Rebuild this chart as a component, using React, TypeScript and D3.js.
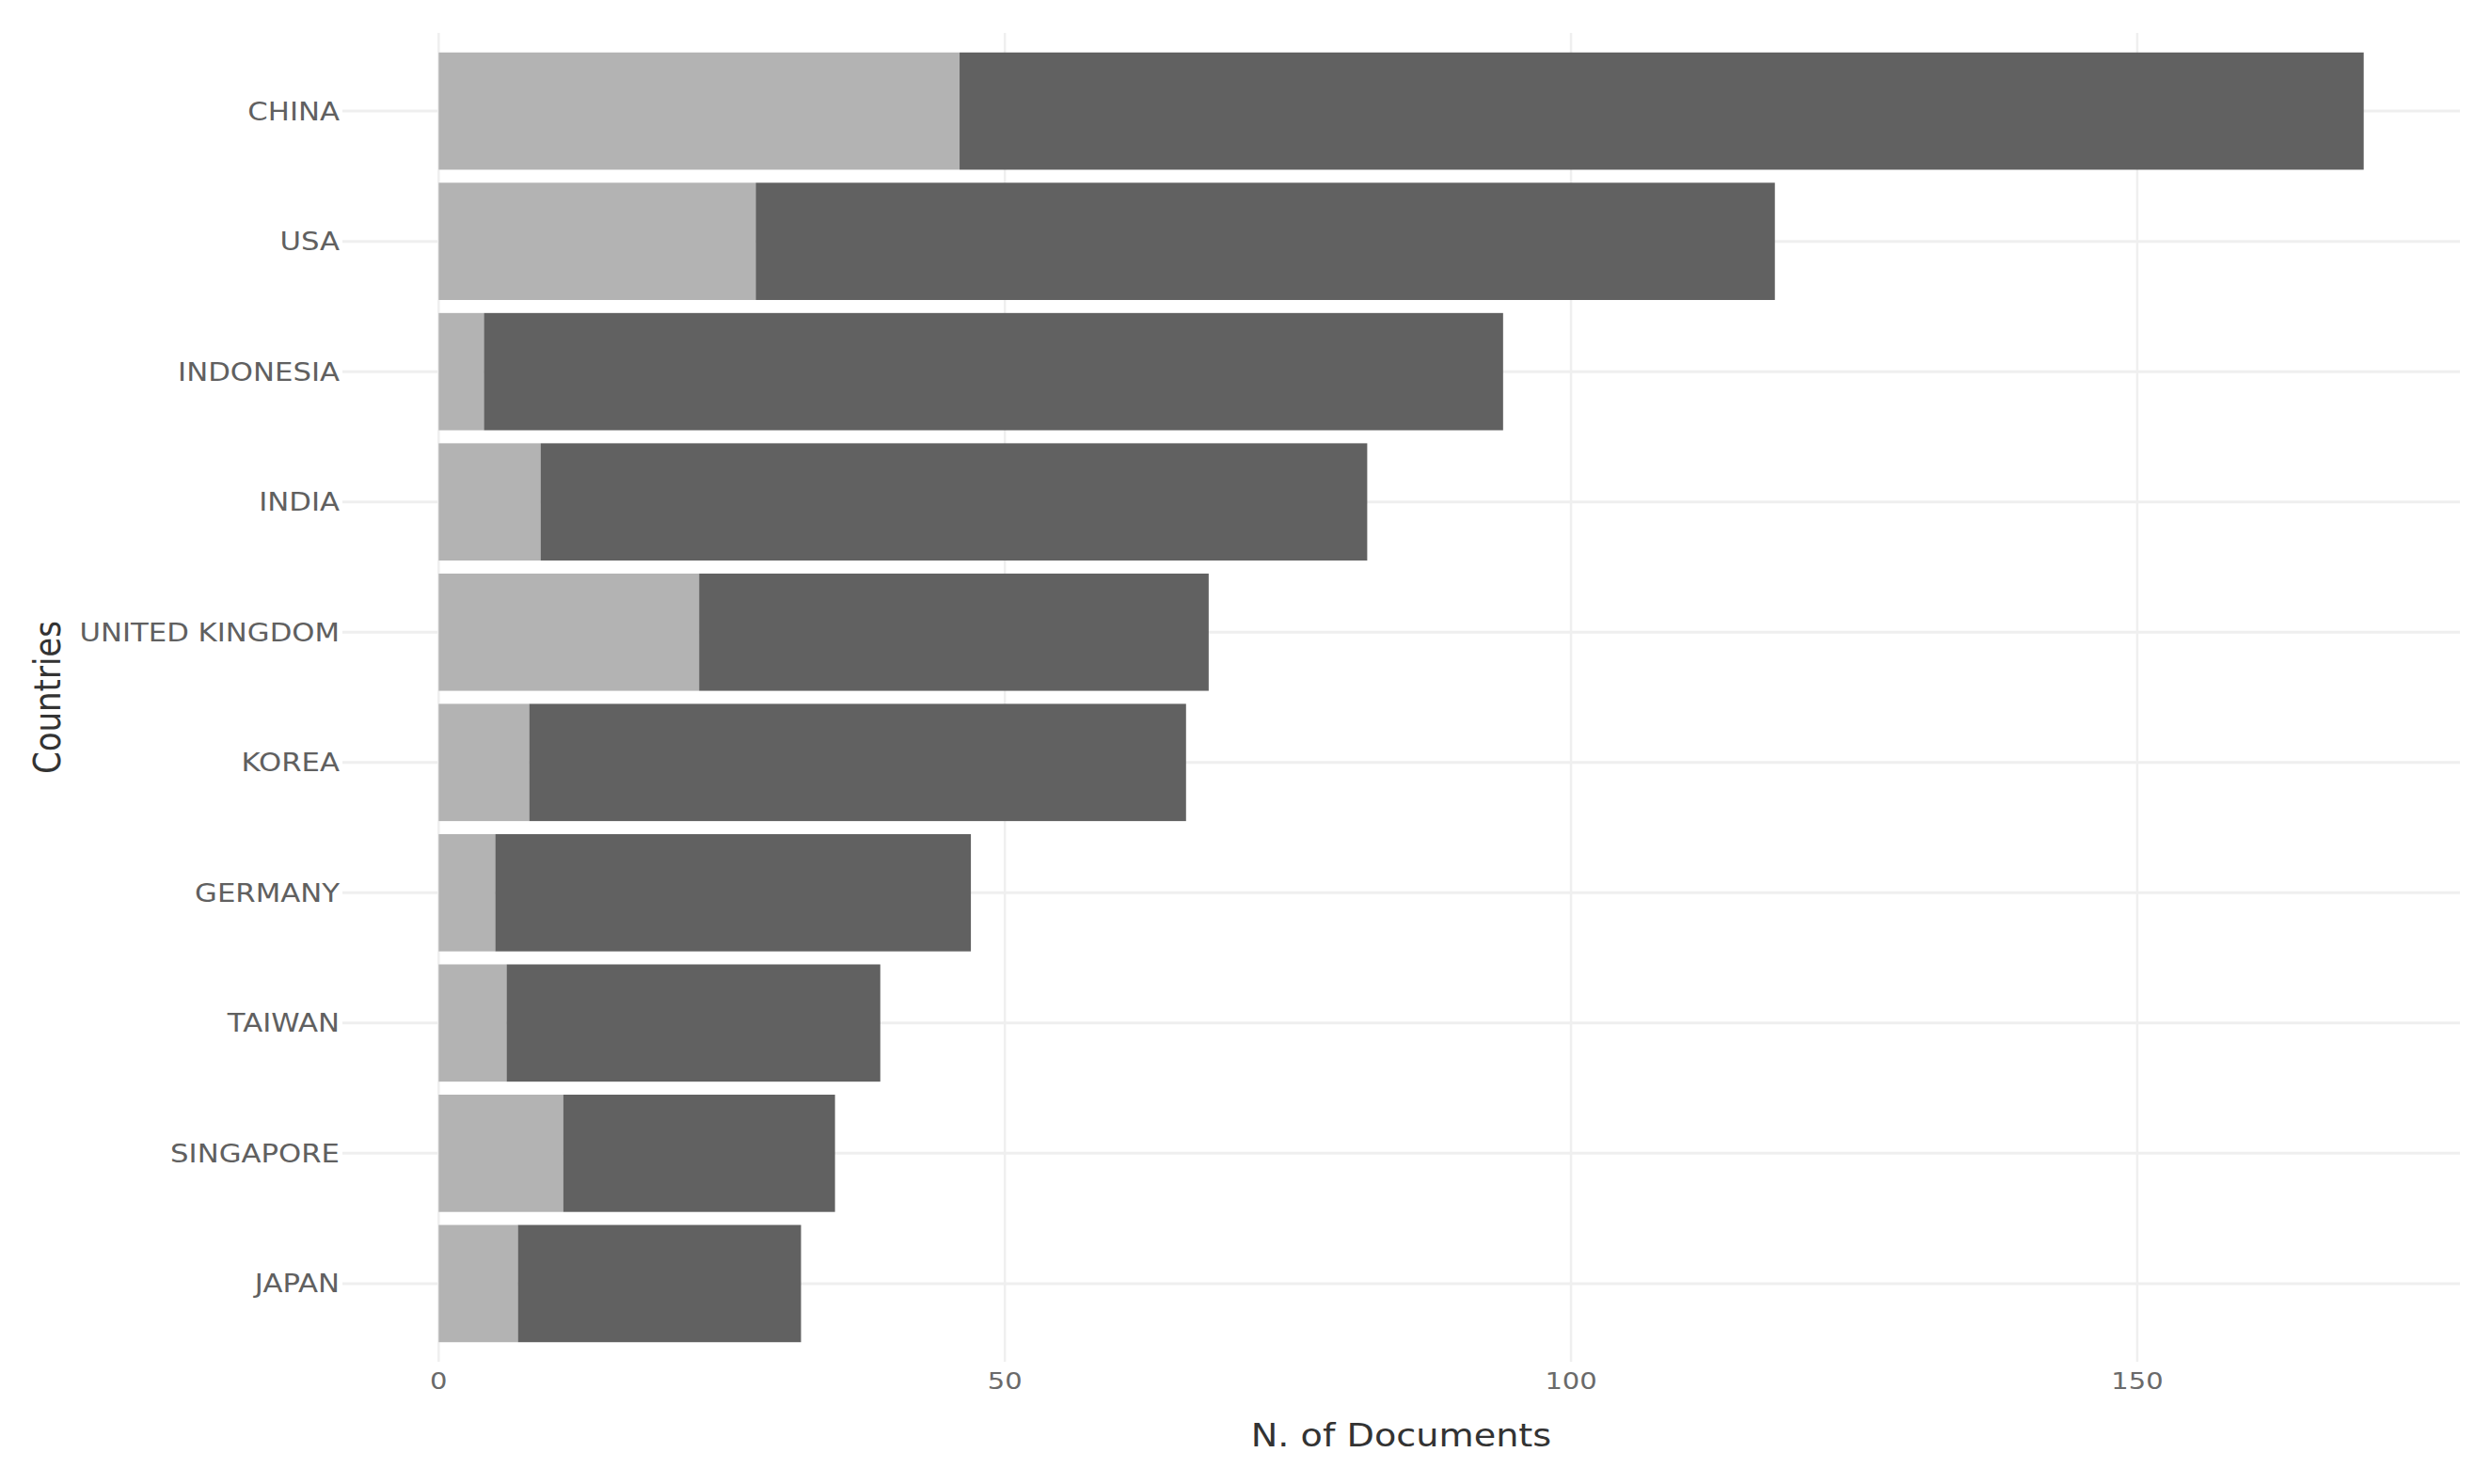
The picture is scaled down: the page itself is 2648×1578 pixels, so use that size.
import React, { useEffect, useRef } from "react";
import * as d3 from "d3";

const countries = ["CHINA", "USA", "INDONESIA", "INDIA", "UNITED KINGDOM", "KOREA", "GERMANY", "TAIWAN", "SINGAPORE", "JAPAN"];
const mcpValues = [46, 28, 4, 9, 23, 8, 5, 6, 11, 7];
const scpValues = [124, 90, 90, 73, 45, 58, 42, 33, 24, 25];
const xTicks = [0, 50, 100, 150];
const xTitle = "N. of Documents";
const yTitle = "Countries";

const W = 2648;
const H = 1578;

export default function App() {
  const ref = useRef<SVGSVGElement | null>(null);

  useEffect(() => {
    document.body.style.margin = "0";
    document.body.style.overflow = "hidden";
    const svg = d3.select(ref.current);
    svg.selectAll("*").remove();

    const rows = countries.map((c, i) => ({ country: c, MCP: mcpValues[i], SCP: scpValues[i] }));
    const stacked = d3.stack<any>().keys(["MCP", "SCP"])(rows);
    const maxTotal = d3.max(rows, (r) => r.MCP + r.SCP) as number;
    const pad = maxTotal * 0.05;

    const left = 364, right = 2615, top = 35, bottom = 1448;
    const x = d3.scaleLinear().domain([-pad, maxTotal + pad]).range([left, right]);
    const step = (bottom - top) / (countries.length + 0.2);
    const y = d3.scaleBand<string>()
      .domain(countries)
      .range([top + 0.6 * step - step * 0.5, bottom - 0.6 * step + step * 0.5])
      .paddingInner(0.1)
      .paddingOuter(0.05);

    const sx = 1.16;
    const grid = svg.append("g");
    grid.selectAll("line.h").data(countries).enter().append("line")
      .attr("x1", left).attr("x2", right)
      .attr("y1", (d) => (y(d) as number) + y.bandwidth() / 2)
      .attr("y2", (d) => (y(d) as number) + y.bandwidth() / 2)
      .attr("stroke", "#EFEFEF").attr("stroke-width", 3);
    grid.selectAll("line.v").data(xTicks).enter().append("line")
      .attr("x1", (d) => x(d)).attr("x2", (d) => x(d))
      .attr("y1", top).attr("y2", bottom)
      .attr("stroke", "#EFEFEF").attr("stroke-width", 2.5);

    const colors: Record<string, string> = { MCP: "#B3B3B3", SCP: "#616161" };
    svg.append("g").selectAll("g").data(stacked).enter().append("g")
      .attr("fill", (s) => colors[s.key])
      .selectAll("rect").data((s) => s).enter().append("rect")
      .attr("x", (d) => x(d[0]))
      .attr("width", (d) => x(d[1]) - x(d[0]))
      .attr("y", (d) => y(d.data.country) as number)
      .attr("height", y.bandwidth());

    const yl = svg.append("g");
    yl.selectAll("text").data(countries).enter().append("text")
      .attr("transform", (d) => `translate(361,${(y(d) as number) + y.bandwidth() / 2}) scale(${sx},1)`)
      .attr("text-anchor", "end")
      .attr("dy", "0.36em")
      .attr("font-family", "DejaVu Sans")
      .attr("font-size", 26.5)
      .attr("fill", "#606060")
      .text((d) => d);

    const xl = svg.append("g");
    xl.selectAll("text").data(xTicks).enter().append("text")
      .attr("transform", (d) => `translate(${x(d)},1477) scale(${sx},1)`)
      .attr("text-anchor", "middle")
      .attr("font-family", "DejaVu Sans")
      .attr("font-size", 25)
      .attr("fill", "#6a6a6a")
      .text((d) => String(d));

    svg.append("text")
      .attr("transform", `translate(${(left + right) / 2},1538) scale(1.14,1)`)
      .attr("text-anchor", "middle")
      .attr("font-family", "DejaVu Sans")
      .attr("font-size", 33.5)
      .attr("fill", "#333")
      .text(xTitle);

    svg.append("text")
      .attr("transform", `translate(64,${(top + bottom) / 2}) scale(1.14,1) rotate(-90)`)
      .attr("text-anchor", "middle")
      .attr("font-family", "DejaVu Sans")
      .attr("font-size", 34)
      .attr("fill", "#333")
      .text(yTitle);
  }, []);

  return (
    <svg ref={ref} width={W} height={H} style={{ position: "absolute", left: 0, top: 0, background: "#fff" }} />
  );
}
